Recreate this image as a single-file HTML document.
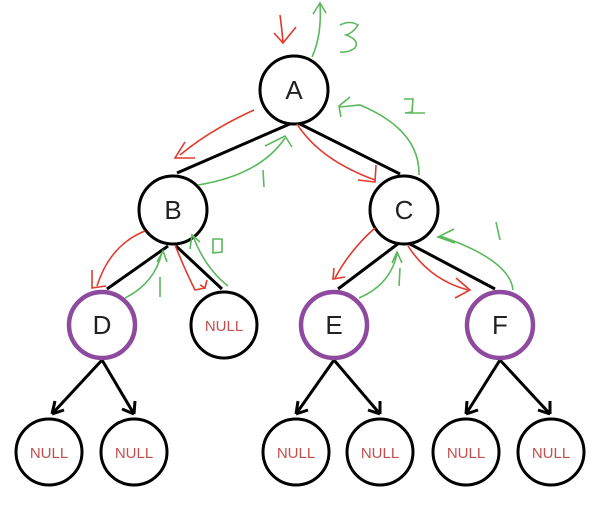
<!DOCTYPE html>
<html><head><style>
body{margin:0;background:#fff;width:600px;height:512px;overflow:hidden}
svg{display:block}
.n{fill:#fff;stroke:#000;stroke-width:3}
.p{fill:#fff;stroke:#8e4a9e;stroke-width:4.5}
.t{font-family:"Liberation Sans",sans-serif;font-size:26px;fill:#222;text-anchor:middle}
.nl{font-family:"Liberation Sans",sans-serif;font-size:15px;fill:#c0504d;text-anchor:middle}
.e{stroke:#000;stroke-width:3;fill:none}
.r{stroke:#e03a2e;stroke-width:1.6;fill:none}
.g{stroke:#5cb85c;stroke-width:1.6;fill:none}
</style></head><body>
<svg width="600" height="512" viewBox="0 0 600 512">
<!-- edges -->
<line class="e" x1="292" y1="123" x2="177" y2="173"/>
<line class="e" x1="300" y1="124" x2="400" y2="174"/>
<line class="e" x1="168" y1="246" x2="107" y2="289"/>
<line class="e" x1="176" y1="246" x2="222" y2="289"/>
<line class="e" x1="399" y1="243" x2="338" y2="289"/>
<line class="e" x1="408" y1="243" x2="495" y2="289"/>
<g class="e" stroke-width="2.5">
<path d="M102 360 L52 414 M52 414 l3 -13 M52 414 l12 -4"/>
<path d="M102 360 L134 414 M134 414 l-12 -5 M134 414 l1 -13"/>
<path d="M334 360 L296 414 M296 414 l2 -13 M296 414 l12 -4"/>
<path d="M334 360 L380 414 M380 414 l-12 -4 M380 414 l0 -13"/>
<path d="M500 360 L466 414 M466 414 l1 -13 M466 414 l12 -4"/>
<path d="M500 360 L550 414 M550 414 l-12 -4 M550 414 l0 -13"/>
</g>
<!-- nodes -->
<circle class="n" cx="294" cy="90" r="34"/><text class="t" x="294" y="99">A</text>
<circle class="n" cx="173" cy="210" r="34"/><text class="t" x="173" y="219">B</text>
<circle class="n" cx="404" cy="210" r="34"/><text class="t" x="404" y="219">C</text>
<circle class="p" cx="102" cy="325" r="33"/><text class="t" x="102" y="334">D</text>
<circle class="n" cx="224" cy="325" r="33"/><text class="nl" x="224" y="331">NULL</text>
<circle class="p" cx="334" cy="325" r="33"/><text class="t" x="334" y="334">E</text>
<circle class="p" cx="500" cy="325" r="33"/><text class="t" x="500" y="334">F</text>
<circle class="n" cx="49" cy="452" r="33"/><text class="nl" x="49" y="458">NULL</text>
<circle class="n" cx="134" cy="452" r="33"/><text class="nl" x="134" y="458">NULL</text>
<circle class="n" cx="296" cy="452" r="33"/><text class="nl" x="296" y="458">NULL</text>
<circle class="n" cx="380" cy="452" r="33"/><text class="nl" x="380" y="458">NULL</text>
<circle class="n" cx="466" cy="452" r="33"/><text class="nl" x="466" y="458">NULL</text>
<circle class="n" cx="551" cy="452" r="33"/><text class="nl" x="551" y="458">NULL</text>
<!-- red arrows -->
<path class="r" d="M280 15 Q282 30 283 43 M274 33 L283 43 L296 27"/>
<path class="r" d="M254 110 Q210 130 180 155 M185 142 L175 158 L195 158"/>
<path class="r" d="M297 124 Q320 160 375 180 M376 165 L375 182 L358 180"/>
<path class="r" d="M145 231 Q110 245 97 286 M92 270 L92 288 L106 286"/>
<path class="r" d="M175 245 Q185 270 195 290 L205 288 M200 285 L205 288 L207 280"/>
<path class="r" d="M375 228 Q350 250 335 278 M334 268 L333 279 L345 277"/>
<path class="r" d="M408 246 Q430 280 468 290 M456 278 L470 290 L455 298"/>
<!-- green arrows -->
<path class="g" d="M312 57 Q322 35 320 4 M313 14 L320 3 L326 13"/>
<path class="g" d="M198 185 Q260 175 285 138 M265 146 L285 136 L292 147"/>
<path class="g" d="M419 175 Q420 130 360 105 L340 107 M350 97 L339 106 L341 117"/>
<path class="g" d="M125 298 Q155 283 162 252 M157 262 L163 251 L167 262"/>
<path class="g" d="M228 286 Q205 268 193 236 M190 249 L192 235 L200 242"/>
<path class="g" d="M359 298 Q390 285 397 254 M392 263 L397 252 L402 263"/>
<path class="g" d="M513 290 Q510 260 440 236 M454 229 L438 237 L455 243"/>
<!-- green labels -->
<path class="g" d="M340 25 Q350 20 358 25 Q353 33 346 35 Q360 40 355 48 Q348 53 340 52" stroke-width="2"/>
<path class="g" d="M404 99 L413 99 L412 112 L405 113 L425 113" stroke-width="2"/>
<path class="g" d="M263 170 L264 187" stroke-width="1.8"/>
<path class="g" d="M160 277 L160 297" stroke-width="1.8"/>
<path class="g" d="M213 239 L213 253 L222 252 L222 239 Z" stroke-width="1.8"/>
<path class="g" d="M400 268 L399 286" stroke-width="1.8"/>
<path class="g" d="M496 222 L500 240" stroke-width="1.8"/>
</svg>
</body></html>
